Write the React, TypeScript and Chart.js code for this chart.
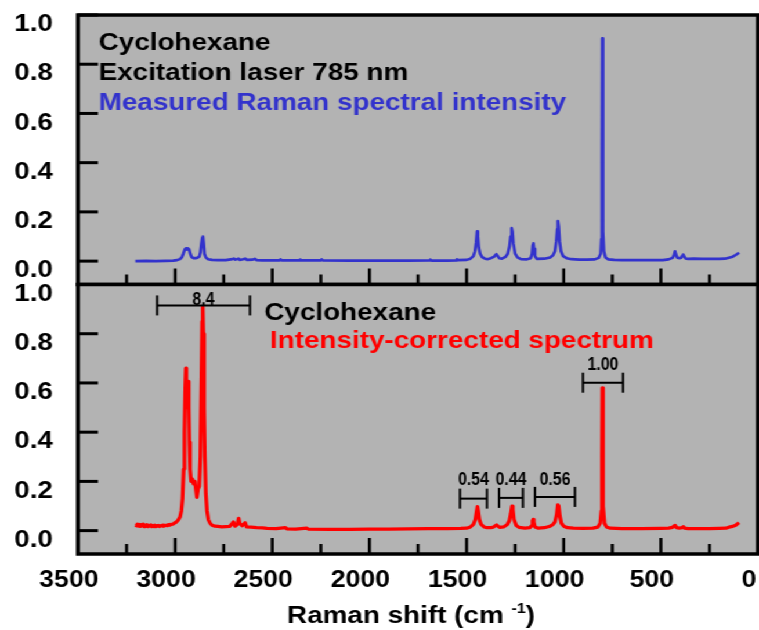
import React, { useEffect, useRef } from 'react';
import { Chart, registerables } from 'chart.js';

Chart.register(...registerables);

// ---------------- data ----------------
const shiftTop = [
  3205, 3150, 3100, 3050, 3010, 2990, 2975, 2965, 2958, 2950, 2945, 2940, 2934, 2928, 2922, 2915, 2905, 2895,
  2885, 2876, 2870, 2865, 2860, 2857, 2853, 2849, 2842, 2830, 2810, 2780, 2740, 2705, 2698, 2690, 2674, 2668,
  2650, 2640, 2630, 2600, 2590, 2580, 2550, 2462, 2458, 2452, 2360, 2356, 2350, 2250, 2246, 2240, 2100, 2000,
  1900, 1800, 1690, 1686, 1680, 1600, 1553, 1549, 1545, 1500, 1480, 1465, 1457, 1451, 1446, 1442, 1437, 1430,
  1420, 1405, 1390, 1375, 1360, 1352, 1347, 1341, 1332, 1318, 1300, 1288, 1279, 1273, 1268, 1264, 1259, 1250,
  1238, 1220, 1190, 1170, 1163, 1159, 1156, 1153, 1148, 1138, 1100, 1070, 1055, 1045, 1038, 1033, 1030, 1026,
  1021, 1014, 1003, 985, 960, 920, 880, 840, 820, 810, 806, 803, 801, 799, 797, 793, 785, 770, 740, 700, 620,
  540, 490, 460, 440, 432, 427, 423, 415, 404, 395, 389, 385, 381, 373, 360, 330, 290, 250, 200, 170, 150, 130,
  115, 105, 97,
];
const intensityTop = [
  0.0, 0.001, 0.0, 0.001, 0.002, 0.004, 0.008, 0.016, 0.03, 0.048, 0.052, 0.047, 0.052, 0.048, 0.03, 0.016, 0.012, 0.012,
  0.014, 0.018, 0.035, 0.07, 0.095, 0.1, 0.07, 0.03, 0.015, 0.008, 0.005, 0.004, 0.004, 0.008, 0.01, 0.006, 0.01, 0.005,
  0.008, 0.01, 0.005, 0.006, 0.009, 0.004, 0.003, 0.003, 0.007, 0.003, 0.003, 0.006, 0.003, 0.003, 0.007, 0.003, 0.002, 0.002,
  0.002, 0.002, 0.003, 0.006, 0.002, 0.002, 0.003, 0.007, 0.004, 0.005, 0.01, 0.02, 0.04, 0.075, 0.121, 0.1, 0.055, 0.03,
  0.016, 0.01, 0.008, 0.012, 0.017, 0.024, 0.028, 0.022, 0.012, 0.01, 0.017, 0.03, 0.06, 0.1, 0.134, 0.12, 0.07, 0.03,
  0.015, 0.008, 0.007, 0.012, 0.03, 0.065, 0.072, 0.05, 0.02, 0.009, 0.01, 0.015, 0.024, 0.04, 0.08, 0.13, 0.163, 0.14,
  0.08, 0.04, 0.02, 0.012, 0.008, 0.006, 0.006, 0.007, 0.013, 0.03, 0.09, 0.4, 0.905, 0.5, 0.12, 0.04, 0.015, 0.007, 0.005, 0.004, 0.004,
  0.004, 0.004, 0.007, 0.013, 0.025, 0.04, 0.028, 0.014, 0.012, 0.014, 0.022, 0.027, 0.02, 0.011, 0.009, 0.01, 0.009, 0.009, 0.009, 0.01, 0.014, 0.018,
  0.025, 0.03, 0.034,
];

const shiftBottom = [
  3205, 3200, 3195, 3190, 3185, 3180, 3175, 3170, 3165, 3160, 3155, 3150, 3145, 3140, 3135, 3130, 3125, 3120,
  3115, 3110, 3105, 3100, 3095, 3090, 3085, 3080, 3075, 3070, 3065, 3060, 3055, 3050, 3045, 3040, 3035, 3030,
  3025, 3020, 3015, 3010, 3005, 2995, 2985, 2975, 2968, 2962, 2956, 2952, 2948, 2945, 2942, 2939, 2936, 2933, 2930, 2927,
  2923, 2918, 2912, 2905, 2898, 2892, 2888, 2882, 2876, 2870, 2865, 2861, 2858, 2855, 2851, 2847, 2842, 2836,
  2829, 2820, 2810, 2795, 2780, 2760, 2740, 2720, 2705, 2700, 2692, 2680, 2673, 2668, 2655, 2640, 2632, 2610,
  2580, 2550, 2527, 2480, 2432, 2425, 2380, 2322, 2315, 2200, 2100, 2000, 1900, 1800, 1700, 1600, 1530, 1500,
  1480, 1465, 1455, 1449, 1444, 1440, 1434, 1425, 1410, 1395, 1375, 1360, 1352, 1346, 1340, 1330, 1310, 1290,
  1280, 1272, 1266, 1262, 1256, 1245, 1230, 1200, 1175, 1165, 1160, 1157, 1154, 1148, 1130, 1100, 1070, 1055,
  1045, 1036, 1030, 1026, 1020, 1012, 1000, 980, 950, 900, 850, 825, 812, 806, 803, 801, 799, 796, 790, 780,
  760, 700, 600, 500, 460, 440, 430, 426, 420, 405, 390, 384, 378, 360, 300, 250, 200, 165, 150, 130, 115, 105, 97,
];
const intensityBottom = [
  0.022, 0.02, 0.026, 0.018, 0.025, 0.017, 0.024, 0.02, 0.026, 0.016, 0.022, 0.019, 0.024, 0.016, 0.021, 0.018, 0.023, 0.016,
  0.02, 0.017, 0.022, 0.016, 0.02, 0.018, 0.021, 0.017, 0.02, 0.019, 0.022, 0.018, 0.021, 0.02, 0.022, 0.02, 0.024, 0.022,
  0.025, 0.024, 0.026, 0.027, 0.03, 0.034, 0.042, 0.055, 0.08, 0.13, 0.25, 0.4, 0.58, 0.66, 0.6, 0.5, 0.55, 0.606, 0.5, 0.36,
  0.25, 0.2, 0.21, 0.19, 0.2, 0.16, 0.135, 0.17, 0.18, 0.3, 0.6, 0.85, 0.91, 0.8, 0.5, 0.3, 0.15, 0.08,
  0.045, 0.03, 0.022, 0.018, 0.017, 0.015, 0.016, 0.017, 0.03, 0.035, 0.018, 0.025, 0.05, 0.03, 0.02, 0.032, 0.015, 0.014,
  0.012, 0.011, 0.009, 0.008, 0.012, 0.007, 0.006, 0.01, 0.006, 0.005, 0.005, 0.006, 0.006, 0.007, 0.008, 0.008, 0.009, 0.01,
  0.015, 0.025, 0.045, 0.075, 0.098, 0.08, 0.045, 0.025, 0.015, 0.012, 0.012, 0.015, 0.02, 0.023, 0.019, 0.013, 0.015, 0.025,
  0.04, 0.07, 0.1, 0.085, 0.045, 0.022, 0.013, 0.01, 0.012, 0.02, 0.04, 0.046, 0.035, 0.015, 0.01, 0.012, 0.018, 0.025,
  0.035, 0.065, 0.105, 0.1, 0.06, 0.03, 0.018, 0.012, 0.01, 0.009, 0.01, 0.014, 0.03, 0.08, 0.3, 0.58, 0.4, 0.1, 0.03, 0.015,
  0.01, 0.008, 0.008, 0.009, 0.01, 0.013, 0.02, 0.021, 0.012, 0.01, 0.012, 0.016, 0.01, 0.008, 0.008, 0.008, 0.009, 0.01, 0.014, 0.017, 0.022, 0.028, 0.032,
];

const yTickValues = [0, 0.2, 0.4, 0.6, 0.8, 1.0];
const xLabelValues = [3500, 3000, 2500, 2000, 1500, 1000, 500, 0];
const xMajorTicks = [3000, 2500, 2000, 1500, 1000, 500];
const xMinorTicks = [3250, 2750, 2250, 1750, 1250, 750, 250];

const bracketLabels = ['8.4', '0.54', '0.44', '0.56', '1.00'];
const bracketFrom = [3093, 1534, 1333, 1148, 901];
const bracketTo = [2615, 1395, 1210, 942, 695];
const bracketLevel = [0.915, 0.13, 0.133, 0.137, 0.601];
const bracketLabelLevel = [0.939, 0.206, 0.206, 0.206, 0.674];

const topNotes = ['Cyclohexane', 'Excitation laser 785 nm', 'Measured Raman spectral intensity'];
const bottomNotes = ['Cyclohexane', 'Intensity-corrected spectrum'];
const xTitle = 'Raman shift (cm ';
const xTitleSup = '-1';
const xTitleEnd = ')';

// ---------------- layout / style ----------------
const OUT_W = 759;
const W = 654;
const H = 630;
const SX = OUT_W / W;
const PLOT_LEFT = 78 / SX;
const PAD_RIGHT = W - 758 / SX;
const TOP_Y0 = 15;
const MID_Y = 284.5;
const BOT_Y1 = 554;
const Y_MIN = -0.095;
const Y_MAX = 1.0;
const FONT = "'Liberation Sans', Arial, Helvetica, sans-serif";
const GRAY = '#b3b3b3';
const BLUE = '#3333cc';
const RED = '#ff0000';

function line(ctx: CanvasRenderingContext2D, x1: number, y1: number, x2: number, y2: number) {
  ctx.beginPath();
  ctx.moveTo(x1, y1);
  ctx.lineTo(x2, y2);
  ctx.stroke();
}

function makePlugin(kind: 'top' | 'bottom') {
  return {
    id: 'panel-' + kind,
    beforeDraw(chart: any) {
      const { ctx, chartArea: a } = chart;
      ctx.save();
      ctx.fillStyle = GRAY;
      ctx.fillRect(a.left, a.top, a.right - a.left, a.bottom - a.top);
      ctx.restore();
    },
    afterDraw(chart: any) {
      const { ctx, chartArea: a, scales } = chart;
      const xs = scales.x;
      const ys = scales.y;
      ctx.save();
      ctx.strokeStyle = '#000';
      ctx.lineCap = 'butt';
      // y ticks (inward)
      ctx.lineWidth = 3;
      for (const v of yTickValues) {
        const py = ys.getPixelForValue(v);
        line(ctx, a.left, py, a.left + 20 / SX, py);
      }
      // x ticks (inward, from bottom)
      ctx.lineWidth = 2.6;
      for (const v of xMajorTicks) {
        const px = xs.getPixelForValue(v);
        line(ctx, px, a.bottom, px, a.bottom - 16);
      }
      for (const v of xMinorTicks) {
        const px = xs.getPixelForValue(v);
        line(ctx, px, a.bottom, px, a.bottom - 10);
      }
      // frame
      ctx.lineWidth = 3.5;
      ctx.strokeRect(a.left, a.top, a.right - a.left, a.bottom - a.top);

      // notes
      ctx.textAlign = 'left';
      ctx.textBaseline = 'alphabetic';
      ctx.font = `bold 24px ${FONT}`;
      if (kind === 'top') {
        ctx.fillStyle = '#000';
        ctx.fillText(topNotes[0], 85, 50);
        ctx.fillText(topNotes[1], 85, 80);
        ctx.fillStyle = BLUE;
        ctx.fillText(topNotes[2], 85, 110);
      } else {
        ctx.fillStyle = '#000';
        ctx.fillText(bottomNotes[0], 227.7, 320);
        ctx.fillStyle = RED;
        ctx.fillText(bottomNotes[1], 232.6, 348);

        // brackets
        ctx.strokeStyle = '#000';
        ctx.lineWidth = 2;
        ctx.fillStyle = '#000';
        for (let i = 0; i < bracketLabels.length; i++) {
          const x1 = xs.getPixelForValue(bracketFrom[i]);
          const x2 = xs.getPixelForValue(bracketTo[i]);
          const py = ys.getPixelForValue(bracketLevel[i]);
          line(ctx, x1, py, x2, py);
          line(ctx, x1, py - 10, x1, py + 10);
          line(ctx, x2, py - 10, x2, py + 10);
          const ly = ys.getPixelForValue(bracketLabelLevel[i]);
          ctx.save();
          ctx.translate((x1 + x2) / 2, ly);
          ctx.scale(0.72, 1);
          ctx.font = `bold 19px ${FONT}`;
          ctx.textAlign = 'center';
          ctx.textBaseline = 'middle';
          ctx.fillText(bracketLabels[i], 0, 0);
          ctx.restore();
        }

        // x title with superscript
        ctx.fillStyle = '#000';
        ctx.textAlign = 'left';
        ctx.textBaseline = 'alphabetic';
        ctx.font = `bold 24px ${FONT}`;
        let tx = 247.3;
        ctx.fillText(xTitle, tx, 623);
        tx += ctx.measureText(xTitle).width;
        ctx.font = `bold 14px ${FONT}`;
        ctx.fillText(xTitleSup, tx, 613);
        tx += ctx.measureText(xTitleSup).width;
        ctx.font = `bold 24px ${FONT}`;
        ctx.fillText(xTitleEnd, tx, 623);
      }
      ctx.restore();
    },
  };
}

function makeConfig(kind: 'top' | 'bottom'): any {
  const xs = kind === 'top' ? shiftTop : shiftBottom;
  const ys = kind === 'top' ? intensityTop : intensityBottom;
  const color = kind === 'top' ? BLUE : RED;
  return {
    type: 'line',
    data: {
      datasets: [
        {
          data: xs.map((x, i) => ({ x, y: ys[i] })),
          borderColor: color,
          borderWidth: kind === 'top' ? 2.6 : 3.2,
          borderJoinStyle: 'round',
          pointRadius: 0,
          tension: 0,
          fill: false,
        },
      ],
    },
    options: {
      animation: false,
      responsive: false,
      devicePixelRatio: 1,
      events: [],
      layout: {
        padding:
          kind === 'top'
            ? { left: 0, right: PAD_RIGHT, top: TOP_Y0, bottom: H - MID_Y }
            : { left: 0, right: PAD_RIGHT, top: MID_Y, bottom: 0 },
      },
      plugins: { legend: { display: false }, tooltip: { enabled: false }, title: { display: false } },
      scales: {
        x: {
          type: 'linear',
          min: 0,
          max: 3500,
          reverse: true,
          display: kind === 'bottom',
          grid: { display: false, drawTicks: false },
          border: { display: false },
          afterBuildTicks: (s: any) => {
            s.ticks = xLabelValues.map((v) => ({ value: v }));
          },
          afterFit: (s: any) => {
            s.height = kind === 'bottom' ? H - BOT_Y1 : 0;
            s.paddingLeft = 0;
            s.paddingRight = 0;
          },
          ticks: {
            autoSkip: false,
            maxRotation: 0,
            minRotation: 0,
            padding: 13,
            labelOffset: -7.8,
            color: '#000',
            font: { family: FONT, size: 23, weight: 'bold' },
            callback: (v: any) => String(v),
          },
        },
        y: {
          type: 'linear',
          min: Y_MIN,
          max: Y_MAX,
          grid: { display: false, drawTicks: false },
          border: { display: false },
          afterBuildTicks: (s: any) => {
            s.ticks = yTickValues.map((v) => ({ value: v }));
          },
          afterFit: (s: any) => {
            s.width = PLOT_LEFT;
            s.paddingTop = 0;
            s.paddingBottom = 0;
          },
          ticks: {
            padding: 21.5,
            labelOffset: 9.5,
            color: '#000',
            font: { family: FONT, size: 24, weight: 'bold' },
            callback: (v: any) => Number(v).toFixed(1),
          },
        },
      },
    },
    plugins: [makePlugin(kind)],
  };
}

export default function App() {
  const topRef = useRef<HTMLCanvasElement>(null);
  const botRef = useRef<HTMLCanvasElement>(null);
  useEffect(() => {
    const c1 = new Chart(topRef.current as HTMLCanvasElement, makeConfig('top'));
    const c2 = new Chart(botRef.current as HTMLCanvasElement, makeConfig('bottom'));
    return () => {
      c1.destroy();
      c2.destroy();
    };
  }, []);
  return (
    <div
      style={{
        position: 'absolute',
        left: 0,
        top: 0,
        width: W,
        height: H,
        background: '#fff',
        transform: `scaleX(${SX})`,
        transformOrigin: '0 0',
      }}
    >
      <canvas ref={topRef} width={W} height={H} style={{ position: 'absolute', left: 0, top: 0 }} />
      <canvas ref={botRef} width={W} height={H} style={{ position: 'absolute', left: 0, top: 0 }} />
    </div>
  );
}
